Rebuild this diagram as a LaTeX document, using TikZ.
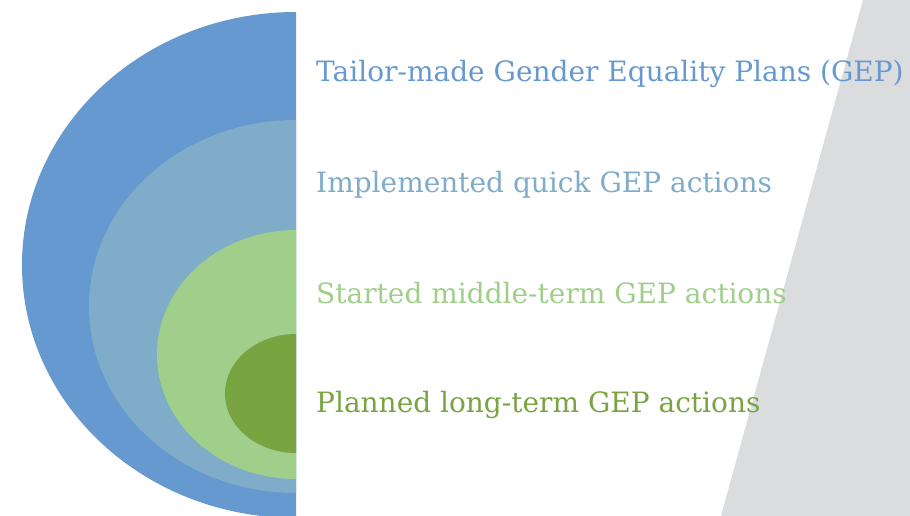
\documentclass[tikz,border=0pt]{standalone}
\usepackage{fontspec}
\setmainfont{DejaVu Serif}
\usepackage{xcolor}
\definecolor{gepblue}{HTML}{6699D0}
\definecolor{quickblue}{HTML}{7FACC9}
\definecolor{midgreen}{HTML}{9FCF8A}
\definecolor{longgreen}{HTML}{78A442}
\definecolor{panelgrey}{HTML}{DBDCDE}

\begin{document}
\begin{tikzpicture}[
  x=1pt,y=-1pt,
  level/.style={anchor=base west,inner sep=0pt,font=\fontsize{28}{32}\selectfont}
]
\useasboundingbox (0,0) rectangle (910,516);
\fill[panelgrey] (863,0) -- (910,0) -- (910,516) -- (721,516) -- cycle;
\begin{scope}
  \clip (0,0) rectangle (296,516);
  \fill[gepblue] (296,265) ellipse[x radius=274,y radius=253];
  \fill[quickblue] (296,306.5) ellipse[x radius=207,y radius=186.5];
  \fill[midgreen] (296,354.5) ellipse[x radius=139,y radius=124.5];
  \fill[longgreen] (296,393.5) ellipse[x radius=71,y radius=59.5];
\end{scope}
\node[level,text=gepblue] (plans) at (316,82) {Tailor-made Gender Equality Plans (GEP)};
\node[level,text=quickblue] (quick) at (316,192) {Implemented quick GEP actions};
\node[level,text=midgreen] (middle) at (316,303) {Started middle-term GEP actions};
\node[level,text=longgreen] (long) at (316,412) {Planned long-term GEP actions};
\end{tikzpicture}
\end{document}
